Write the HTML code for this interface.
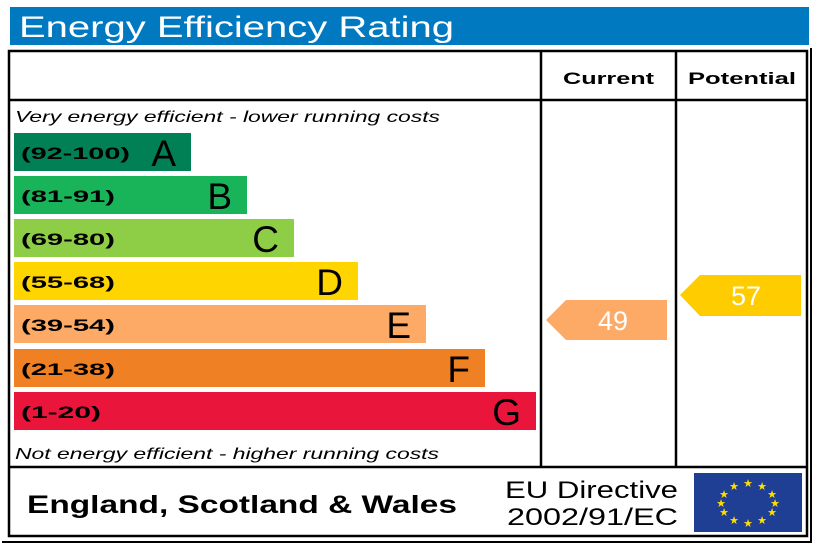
<!DOCTYPE html>
<html><head><style>body{margin:0;background:#fff}svg{display:block}</style></head><body>
<svg width="820" height="547" viewBox="0 0 820 547" xmlns="http://www.w3.org/2000/svg" font-family="'Liberation Sans', sans-serif">
<rect x="10" y="7" width="799" height="38" fill="#0079c1"/>
<text x="19" y="37" font-size="30" fill="#fff" textLength="435" lengthAdjust="spacingAndGlyphs">Energy Efficiency Rating</text>
<rect x="9" y="51" width="798" height="485" fill="none" stroke="#000" stroke-width="2.5"/>
<polyline points="2,542 811,542 811,48" fill="none" stroke="#000" stroke-width="2"/>
<line x1="9" y1="100" x2="807" y2="100" stroke="#000" stroke-width="2.5"/>
<line x1="541" y1="51" x2="541" y2="467" stroke="#000" stroke-width="2.5"/>
<line x1="676" y1="51" x2="676" y2="467" stroke="#000" stroke-width="2.5"/>
<line x1="9" y1="467" x2="807" y2="467" stroke="#000" stroke-width="2.5"/>
<text x="563" y="84" font-size="17" font-weight="bold" textLength="91" lengthAdjust="spacingAndGlyphs">Current</text>
<text x="688" y="84" font-size="17" font-weight="bold" textLength="108" lengthAdjust="spacingAndGlyphs">Potential</text>
<text x="15" y="122" font-size="16" font-style="italic" textLength="425" lengthAdjust="spacingAndGlyphs">Very energy efficient - lower running costs</text>
<text x="15" y="459" font-size="16" font-style="italic" textLength="424" lengthAdjust="spacingAndGlyphs">Not energy efficient - higher running costs</text>
<g font-weight="bold" font-size="17">
<rect x="14" y="133" width="177" height="38" fill="#008054"/><text x="21" y="159" textLength="109" lengthAdjust="spacingAndGlyphs">(92-100)</text><text x="176" y="166" font-size="37" font-weight="normal" text-anchor="end">A</text>
<rect x="14" y="176" width="233" height="38" fill="#19b459"/><text x="21" y="202" textLength="94" lengthAdjust="spacingAndGlyphs">(81-91)</text><text x="232" y="209" font-size="37" font-weight="normal" text-anchor="end">B</text>
<rect x="14" y="219" width="280" height="38" fill="#8dce46"/><text x="21" y="245" textLength="94" lengthAdjust="spacingAndGlyphs">(69-80)</text><text x="279" y="252" font-size="37" font-weight="normal" text-anchor="end">C</text>
<rect x="14" y="262" width="344" height="38" fill="#ffd500"/><text x="21" y="288" textLength="94" lengthAdjust="spacingAndGlyphs">(55-68)</text><text x="343" y="295" font-size="37" font-weight="normal" text-anchor="end">D</text>
<rect x="14" y="305" width="412" height="38" fill="#fcaa65"/><text x="21" y="331" textLength="94" lengthAdjust="spacingAndGlyphs">(39-54)</text><text x="411" y="338" font-size="37" font-weight="normal" text-anchor="end">E</text>
<rect x="14" y="349" width="471" height="38" fill="#ef8023"/><text x="21" y="375" textLength="94" lengthAdjust="spacingAndGlyphs">(21-38)</text><text x="470" y="382" font-size="37" font-weight="normal" text-anchor="end">F</text>
<rect x="14" y="392" width="522" height="38" fill="#e9153b"/><text x="21" y="418" textLength="80" lengthAdjust="spacingAndGlyphs">(1-20)</text><text x="521" y="425" font-size="37" font-weight="normal" text-anchor="end">G</text>
</g>
<polygon points="546,320 566,300 667,300 667,340 566,340" fill="#fcaa65"/>
<text x="613" y="330" font-size="27" fill="#fff" text-anchor="middle">49</text>
<polygon points="680,295 700,275 801,275 801,316 700,316" fill="#ffcc00"/>
<text x="746" y="305" font-size="27" fill="#fff" text-anchor="middle">57</text>
<text x="27" y="513" font-size="25" font-weight="bold" textLength="430" lengthAdjust="spacingAndGlyphs">England, Scotland &amp; Wales</text>
<text x="505" y="498" font-size="24" textLength="173" lengthAdjust="spacingAndGlyphs">EU Directive</text>
<text x="507" y="525" font-size="24" textLength="171" lengthAdjust="spacingAndGlyphs">2002/91/EC</text>
<rect x="694" y="473" width="108" height="59" fill="#1f3f94"/>
<g fill="#ffdd00" font-size="11" text-anchor="middle">
<text x="748" y="487">★</text><text x="762" y="490">★</text><text x="772" y="498">★</text><text x="775" y="507">★</text><text x="772" y="516">★</text><text x="762" y="524">★</text><text x="748" y="527">★</text><text x="734" y="524">★</text><text x="724" y="516">★</text><text x="721" y="507">★</text><text x="724" y="498">★</text><text x="734" y="490">★</text>
</g>
</svg>
</body></html>
